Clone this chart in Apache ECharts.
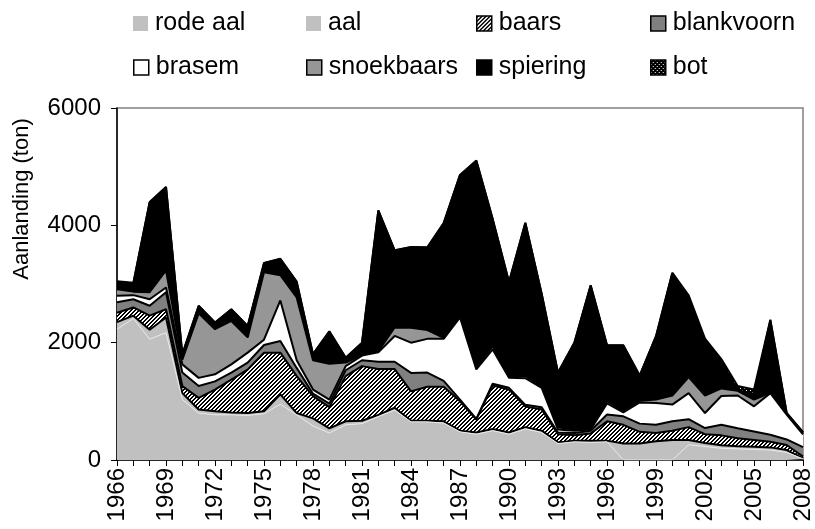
<!DOCTYPE html>
<html>
<head>
<meta charset="utf-8">
<title>Aanlanding per soort</title>
<script src="https://cdn.jsdelivr.net/npm/echarts@6/dist/echarts.min.js"></script>
<style>
  html, body { margin: 0; padding: 0; background: #fff; }
  #chart { width: 815px; height: 529px; }
</style>
</head>
<body>
<div id="chart"></div>
<script>
// jaren (categorie-as)
var years = ['1966', '1967', '1968', '1969', '1970', '1971', '1972', '1973', '1974', '1975',
  '1976', '1977', '1978', '1979', '1980', '1981', '1982', '1983', '1984', '1985',
  '1986', '1987', '1988', '1989', '1990', '1991', '1992', '1993', '1994', '1995',
  '1996', '1997', '1998', '1999', '2000', '2001', '2002', '2003', '2004', '2005',
  '2006', '2007', '2008'];

// aanlanding per soort (ton)
var rodeAal = [2230, 2410, 2060, 2170, 1030, 800, 770, 770, 760, 790, 950, 770, 580, 460, 600, 620, 740, 850, 650, 650,
  630, 480, 440, 500, 440, 530, 470, 280, 310, 300, 310, 0, 0, 0, 0, 260, 230, 200, 190, 180, 170, 130, 20];
var aal = [120, 50, 160, 260, 110, 60, 60, 40, 40, 40, 170, 30, 130, 80, 60, 50, 30, 40, 20, 20,
  30, 20, 30, 30, 30, 30, 30, 20, 20, 30, 20, 280, 280, 320, 340, 80, 60, 50, 45, 45, 45, 40, 10];
var baars = [160, 140, 240, 140, 120, 200, 370, 560, 740, 1000, 710, 630, 380, 360, 770, 930, 780, 660, 500, 580,
  590, 500, 220, 740, 730, 350, 360, 140, 90, 120, 330, 320, 200, 140, 160, 220, 150, 170, 135, 115, 95, 85, 30];
var blankvoorn = [180, 140, 170, 290, 230, 200, 140, 120, 120, 130, 200, 140, 40, 60, 100, 100, 125, 125, 315, 240,
  100, 30, 10, 30, 30, 30, 40, 30, 40, 50, 115, 145, 140, 140, 160, 135, 105, 180, 170, 145, 120, 95, 160];
var brasem = [110, 70, 110, 80, 140, 140, 120, 140, 170, 90, 690, 130, 70, 70, 70, 80, 160, 440, 515, 575,
  715, 1400, 845, 585, 170, 455, 330, 50, 40, 20, 190, 65, 360, 370, 285, 445, 255, 490, 560, 430, 710, 425, 215];
var snoekbaars = [110, 60, 120, 290, 80, 1100, 770, 740, 260, 1150, 430, 1070, 500, 610, 60, 10, 20, 145, 255, 150,
  15, 40, 30, 55, 30, 40, 30, 40, 20, 20, 40, 30, 30, 60, 155, 275, 300, 130, 80, 115, 5, 10, 20];
var spiering = [130, 140, 1530, 1420, 90, 125, 110, 195, 190, 155, 275, 265, 100, 550, 80, 205, 2395, 1310, 1370, 1405,
  1955, 2385, 3525, 2165, 1600, 2605, 1570, 925, 1475, 2435, 950, 1110, 425, 1075, 2085, 1360, 930, 450, 10, 100, 1235, 15, 15];
var bot = [5, 10, 10, 5, 5, 5, 5, 5, 5, 5, 5, 5, 5, 5, 5, 5, 5, 5, 5, 5,
  5, 5, 5, 5, 5, 5, 5, 5, 5, 5, 5, 5, 5, 5, 5, 30, 40, 50, 70, 70, 10, 5, 5];

var names = ['rode aal', 'aal', 'baars', 'blankvoorn', 'brasem', 'snoekbaars', 'spiering', 'bot'];
var values = [rodeAal, aal, baars, blankvoorn, brasem, snoekbaars, spiering, bot];

var FONT = '"Liberation Sans", Arial, sans-serif';

// patroon: schuine arcering (baars)
function makeHatch() {
  var c = document.createElement('canvas');
  c.width = 8;
  c.height = 8;
  var ctx = c.getContext('2d');
  var img = ctx.createImageData(8, 8);
  for (var y = 0; y < 8; y++) {
    for (var x = 0; x < 8; x++) {
      var v = ((x + y) % 4) < 2 ? 0 : 255;
      var p = (y * 8 + x) * 4;
      img.data[p] = v; img.data[p + 1] = v; img.data[p + 2] = v; img.data[p + 3] = 255;
    }
  }
  ctx.putImageData(img, 0, 0);
  return { image: c, repeat: 'repeat' };
}

// patroon: stippen (bot)
function makeDots() {
  var c = document.createElement('canvas');
  c.width = 4;
  c.height = 4;
  var ctx = c.getContext('2d');
  ctx.fillStyle = '#000';
  ctx.fillRect(0, 0, 4, 4);
  ctx.fillStyle = '#fff';
  ctx.fillRect(0, 0, 1, 1);
  ctx.fillRect(2, 2, 1, 1);
  return { image: c, repeat: 'repeat' };
}

var fills = ['#c0c0c0', '#c0c0c0', makeHatch(), '#808080', '#ffffff', '#969696', '#000000', makeDots()];
var lineColors = ['#e8e8e8', '#000', '#000', '#000', '#000', '#000', '#000', '#000'];
var iconBorder = [0, 0, 1.5, 1.5, 1.5, 1.5, 1.5, 1.5];

// legenda: 2 rijen x 4 kolommen
var legendLeft = [133, 306, 476, 650];
var legendTop = [11, 55];

var chart = echarts.init(document.getElementById('chart'), null, { renderer: 'canvas' });

var series = names.map(function (n, i) {
  return {
    name: n,
    type: 'line',
    stack: 'totaal',
    data: values[i],
    showSymbol: false,
    symbol: 'none',
    z: 20 - i,
    lineStyle: { color: lineColors[i], width: i === 0 ? 1 : 2 },
    areaStyle: { color: fills[i], opacity: 1 },
    itemStyle: { color: i === 6 ? '#000' : '#808080' },
    emphasis: { disabled: true }
  };
});

var legends = names.map(function (n, i) {
  return {
    data: [{
      name: n,
      itemStyle: {
        color: fills[i],
        borderColor: '#000',
        borderWidth: iconBorder[i]
      }
    }],
    left: legendLeft[i % 4],
    top: legendTop[Math.floor(i / 4)],
    icon: 'rect',
    itemWidth: 15,
    itemHeight: 15,
    padding: 0,
    selectedMode: false,
    textStyle: { fontSize: 25, fontFamily: FONT, color: '#000', padding: [0, 0, 0, 2] }
  };
});

var option = {
  backgroundColor: '#fff',
  animation: false,
  legend: legends,
  grid: {
    left: 117,
    right: 10,
    top: 108,
    bottom: 69,
    show: true,
    borderColor: '#808080',
    borderWidth: 1.5,
    backgroundColor: 'transparent'
  },
  xAxis: {
    type: 'category',
    data: years,
    boundaryGap: false,
    axisLine: { lineStyle: { color: '#000', width: 1.5 } },
    axisTick: { interval: 0, length: 6, lineStyle: { color: '#000' } },
    axisLabel: { interval: 2, rotate: 90, fontSize: 24, fontFamily: FONT, color: '#000', margin: 8 },
    splitLine: { show: false }
  },
  yAxis: {
    type: 'value',
    min: 0,
    max: 6000,
    interval: 2000,
    axisLine: { show: true, lineStyle: { color: '#000', width: 1.5 } },
    axisTick: { show: true, length: 6, lineStyle: { color: '#000' } },
    axisLabel: {
      fontSize: 24, fontFamily: FONT, color: '#000', margin: 16,
      formatter: function (v) { return String(v); }
    },
    splitLine: { show: false }
  },
  graphic: [{
    type: 'text',
    x: 22,
    y: 199,
    rotation: Math.PI / 2,
    style: {
      text: 'Aanlanding (ton)',
      fontSize: 22,
      fontFamily: FONT,
      fill: '#000',
      textAlign: 'center',
      textVerticalAlign: 'middle'
    }
  }],
  series: series
};

chart.setOption(option);
</script>
</body>
</html>
